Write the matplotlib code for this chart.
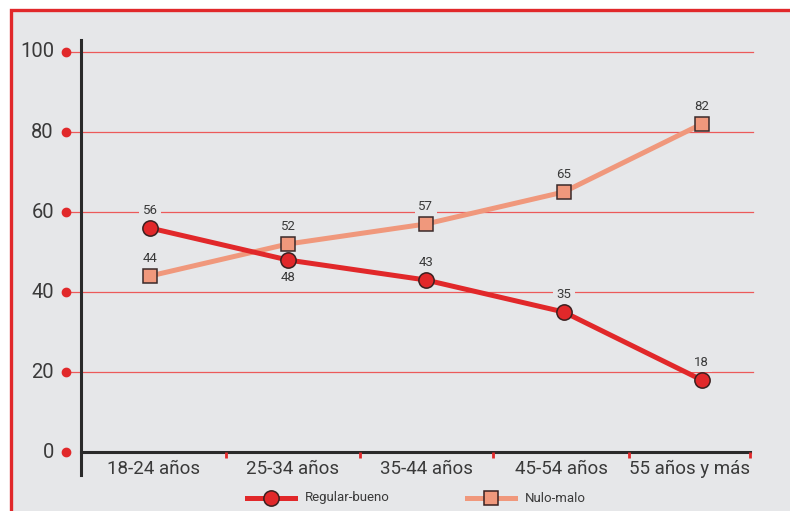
import matplotlib
matplotlib.use('Agg')
import matplotlib.pyplot as plt
from matplotlib.patches import Rectangle
import matplotlib.transforms as mtransforms

# ── Data ─────────────────────────────────────────────────────────────────────
categories = ['18-24 años', '25-34 años', '35-44 años', '45-54 años', '55 años y más']
regular_bueno = [56, 48, 43, 35, 18]
nulo_malo = [44, 52, 57, 65, 82]
y_ticks = [0, 20, 40, 60, 80, 100]
# label placement for Regular-bueno values (above / below the marker)
rb_label_pos = ['above', 'below', 'above', 'above', 'above']

# ── Style ────────────────────────────────────────────────────────────────────
BG = '#e6e7e9'
RED = '#e1282a'
SALMON = '#f0987c'
GRID = '#ec5a5a'
TEXT = '#3a3a3a'
plt.rcParams['font.family'] = ['Roboto', 'DejaVu Sans']

W, H = 790, 511
fig = plt.figure(figsize=(W / 100, H / 100), dpi=100)
fig.patch.set_facecolor('white')

# red frame, runs off right and bottom edges
fig.patches.append(Rectangle((10.5 / W, -0.05), 1.1, 1 - 10.5 / H + 0.05,
                             transform=fig.transFigure, facecolor=BG,
                             edgecolor=RED, lw=2.4, zorder=-5))

# axes placement in pixels
ax_l, ax_r = 81, 750
y0_px, y100_px = 452, 52
px_per_unit = (y0_px - y100_px) / 100
ymax = 100 + (y100_px - 40) / px_per_unit
ymin = -(475 - y0_px) / px_per_unit
ax = fig.add_axes([ax_l / W, 1 - 475 / H, (ax_r - ax_l) / W, (475 - 40) / H])
ax.set_facecolor('none')
ax.set_zorder(2)

x = list(range(len(categories)))
ax.set_xlim(-0.5, 4.35)
ax.set_ylim(ymin, ymax)

# gridlines + red dots on the left
trans = mtransforms.blended_transform_factory(ax.transAxes, ax.transData)
gx0 = (66 - ax_l) / (ax_r - ax_l)
gx1 = (753 - ax_l) / (ax_r - ax_l)
for yv in y_ticks[1:]:
    ax.plot([gx0, gx1], [yv, yv], transform=trans, color=GRID, lw=0.9,
            clip_on=False, zorder=1)
ax.plot([gx0] * len(y_ticks), y_ticks, 'o', transform=trans, color=RED,
        ms=6, clip_on=False, zorder=3)
for yv in y_ticks:
    ax.text(gx0 - 0.018, yv, str(yv), transform=trans, ha='right', va='center',
            fontsize=14.5, color=TEXT)

# spines
for s in ['top', 'right']:
    ax.spines[s].set_visible(False)
ax.spines['left'].set_color('#2a2a2a')
ax.spines['left'].set_linewidth(2.2)
ax.spines['bottom'].set_position(('data', 0))
ax.spines['bottom'].set_color('#2a2a2a')
ax.spines['bottom'].set_linewidth(2.2)
ax.set_yticks([])

# category separators (small red ticks) and labels
bounds = [-0.5, 0.55, 1.52, 2.49, 3.47, 4.35]
ax.set_xticks([])
for b in bounds[1:]:
    ax.plot([b, b], [0, -1.6], color=RED, lw=2, solid_capstyle='butt',
            clip_on=False, zorder=4)
for i, c in enumerate(categories):
    ax.text((bounds[i] + bounds[i + 1]) / 2, -4.2, c, ha='center', va='center',
            fontsize=13.5, color=TEXT)

# series
ax.plot(x, nulo_malo, color=SALMON, lw=3.6, marker='s', ms=10.5,
        mfc=SALMON, mec='#3a2a2a', mew=1.1, zorder=5, clip_on=False)
ax.plot(x, regular_bueno, color=RED, lw=3.6, marker='o', ms=11,
        mfc=RED, mec='#3a2020', mew=1.1, zorder=6, clip_on=False)

# value labels (background box cuts the gridline like the original)
lbl = dict(ha='center', va='center', fontsize=9.5, color=TEXT, zorder=4,
           bbox=dict(boxstyle='square,pad=0.25', fc=BG, ec='none'))
for xi, v, pos in zip(x, regular_bueno, rb_label_pos):
    off = 4.5 if pos == 'above' else -4.3
    ax.text(xi, v + off, str(v), **lbl)
for xi, v in zip(x, nulo_malo):
    ax.text(xi, v + 4.5, str(v), **lbl)

# legend drawn in figure pixels
def legend_item(x0, label, color, marker, ms, lw):
    yy = 1 - 498 / H
    fig.add_artist(plt.Line2D([x0 / W, (x0 + 48) / W], [yy, yy], color=color,
                              lw=lw, transform=fig.transFigure))
    fig.add_artist(plt.Line2D([(x0 + 24) / W], [yy], marker=marker, ms=ms,
                              mfc=color, mec='#3a2020', mew=1.1, lw=0,
                              transform=fig.transFigure))
    fig.text((x0 + 58) / W, yy, label, ha='left', va='center', fontsize=9.5,
             color=TEXT)

legend_item(247, 'Regular-bueno', RED, 'o', 11, 3.6)
legend_item(467, 'Nulo-malo', SALMON, 's', 10.5, 3.6)

fig.savefig('out.png', dpi=100, facecolor=fig.get_facecolor())
